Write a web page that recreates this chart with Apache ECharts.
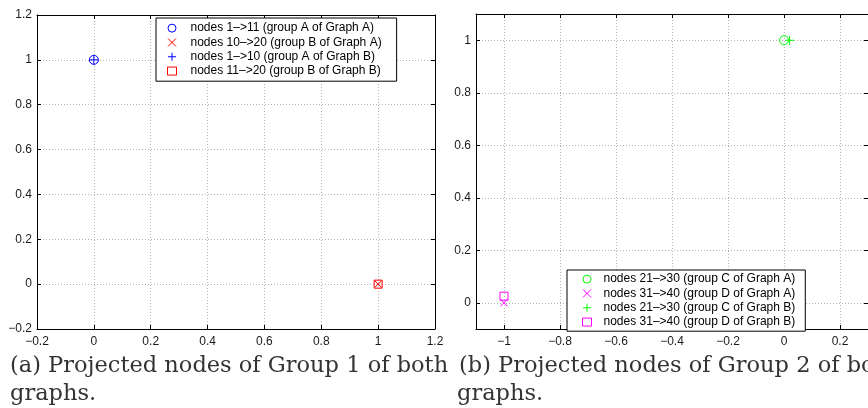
<!DOCTYPE html>
<html><head><meta charset="utf-8">
<script src="https://cdn.jsdelivr.net/npm/echarts@6/dist/echarts.min.js"></script>
<style>html,body{margin:0;padding:0;background:#fff}#c{width:868px;height:408px}</style>
</head><body><div id="c"></div>
<script>
// ---- data ----
const leftGroupA_GraphA = [[0, 1]];      // circle, blue
const leftGroupB_GraphA = [[1, 0]];      // x, red
const leftGroupA_GraphB = [[0, 1]];      // plus, blue
const leftGroupB_GraphB = [[1, 0]];      // square, red
const rightGroupC_GraphA = [[0, 1]];     // circle, green
const rightGroupD_GraphA = [[-1, 0]];    // x, magenta
const rightGroupC_GraphB = [[0.02, 1]];  // plus, green
const rightGroupD_GraphB = [[-1, 0.025]];// square, magenta
const leftNames = ['nodes 1\u2013>11 (group A of Graph A)', 'nodes 10\u2013>20 (group B of Graph A)', 'nodes 1\u2013>10 (group A of Graph B)', 'nodes 11\u2013>20 (group B of Graph B)'];
const rightNames = ['nodes 21\u2013>30 (group C of Graph A)', 'nodes 31\u2013>40 (group D of Graph A)', 'nodes 21\u2013>30 (group C of Graph B)', 'nodes 31\u2013>40 (group D of Graph B)'];
const rightXTicks = [-1, -0.8, -0.6, -0.4, -0.2, 0, 0.2];
const rightYTicks = [0, 0.2, 0.4, 0.6, 0.8, 1];
const captionA = ['(a) Projected nodes of Group 1 of both', 'graphs.'];
const captionB = ['(b) Projected nodes of Group 2 of both', 'graphs.'];

const SYM = {
  circle: 'circle',
  x: 'path://M0,0L10,10M10,0L0,10',
  plus: 'path://M5,0L5,10M0,5L10,5',
  square: 'rect'
};
const fmt = v => String(+(+v).toFixed(2)).replace('-', '\u2212');
const lblStyle = {fontFamily: 'Liberation Sans', fontSize: 12, color: '#1a1a1a'};
const gridLine = {show: true, lineStyle: {color: '#b5b5b5', type: [1, 2], width: 1}};
const axLine = {show: true, onZero: false, lineStyle: {color: '#000', width: 1}};
const tick = (cv) => Object.assign({show: true, inside: true, length: 4, lineStyle: {color: '#000'}}, cv ? {customValues: cv} : {});

function mainAxis(grid, pos, min, max, interval, cv, isY) {
  const a = {type: 'value', gridIndex: grid, position: pos, min, max, offset: 0,
    axisLine: axLine, axisTick: tick(cv), splitLine: gridLine,
    axisLabel: Object.assign({show: true, margin: isY ? 5 : 7, formatter: fmt, showMinLabel: true, showMaxLabel: true}, lblStyle, cv ? {customValues: cv} : {})};
  if (interval) a.interval = interval;
  return a;
}
function boxAxis(grid, pos, min, max, interval, cv) {
  const a = {type: 'value', gridIndex: grid, position: pos, min, max, offset: 0,
    axisLine: axLine, axisTick: tick(cv), splitLine: {show: false}, axisLabel: {show: false}};
  if (interval) a.interval = interval;
  return a;
}
function scat(name, data, sym, color, x, y, size) {
  return {type: 'scatter', name, data, xAxisIndex: x, yAxisIndex: y, symbol: sym, symbolSize: size || 8,
    itemStyle: {color: 'rgba(0,0,0,0)', borderColor: color, borderWidth: 1, opacity: 1}, z: 5};
}
const legendCommon = {orient: 'vertical', backgroundColor: '#fff', borderColor: '#000', borderWidth: 1,
  itemWidth: 9, itemHeight: 8, itemGap: 0, z: 10, selectedMode: false,
  itemStyle: {borderWidth: 1},
  textStyle: {fontFamily: 'Liberation Sans', fontSize: 12, color: '#000', lineHeight: 14.3}};
const capStyle = {fontFamily: 'DejaVu Serif', fontSize: 22.5, fontWeight: 'normal', color: '#333'};

const chart = echarts.init(document.getElementById('c'), null, {renderer: 'canvas'});
chart.setOption({
  animation: false,
  backgroundColor: '#fff',
  title: [
    {text: captionA[0], left: 10, top: 355, padding: 0, textStyle: capStyle},
    {text: captionA[1], left: 10, top: 383, padding: 0, textStyle: capStyle},
    {text: captionB[0], left: 459, top: 355, padding: 0, textStyle: capStyle},
    {text: captionB[1], left: 457, top: 383, padding: 0, textStyle: capStyle}
  ],
  grid: [
    {left: 37, top: 15, width: 398, height: 314, containLabel: false},
    {left: 476, top: 14, width: 400, height: 315, containLabel: false}
  ],
  xAxis: [
    mainAxis(0, 'bottom', -0.2, 1.2, 0.2, null, false),
    boxAxis(0, 'top', -0.2, 1.2, 0.2, null),
    mainAxis(1, 'bottom', -1.1, 0.3, null, rightXTicks, false),
    boxAxis(1, 'top', -1.1, 0.3, null, rightXTicks)
  ],
  yAxis: [
    mainAxis(0, 'left', -0.2, 1.2, 0.2, null, true),
    boxAxis(0, 'right', -0.2, 1.2, 0.2, null),
    mainAxis(1, 'left', -0.1, 1.1, null, rightYTicks, true),
    boxAxis(1, 'right', -0.1, 1.1, null, rightYTicks)
  ],
  legend: [
    Object.assign({}, legendCommon, {data: leftNames, left: 156, top: 18, padding: [3, 15, 3, 11],
      textStyle: Object.assign({}, legendCommon.textStyle, {padding: [0, 0, 0, 9]})}),
    Object.assign({}, legendCommon, {data: rightNames, left: 567, top: 270, padding: [2, 10, 2, 15],
      textStyle: Object.assign({}, legendCommon.textStyle, {padding: [0, 0, 0, 7]})})
  ],
  series: [
    scat(leftNames[0], leftGroupA_GraphA, SYM.circle, '#0000ff', 0, 0, 9),
    scat(leftNames[1], leftGroupB_GraphA, SYM.x, '#ff0000', 0, 0, 7),
    scat(leftNames[2], leftGroupA_GraphB, SYM.plus, '#0000ff', 0, 0, 9),
    scat(leftNames[3], leftGroupB_GraphB, SYM.square, '#ff0000', 0, 0, 8),
    scat(rightNames[0], rightGroupC_GraphA, SYM.circle, '#00ff00', 2, 2, 9),
    scat(rightNames[1], rightGroupD_GraphA, SYM.x, '#ff00ff', 2, 2, 7),
    scat(rightNames[2], rightGroupC_GraphB, SYM.plus, '#00ff00', 2, 2, 9),
    scat(rightNames[3], rightGroupD_GraphB, SYM.square, '#ff00ff', 2, 2, 8)
  ]
});
</script></body></html>
